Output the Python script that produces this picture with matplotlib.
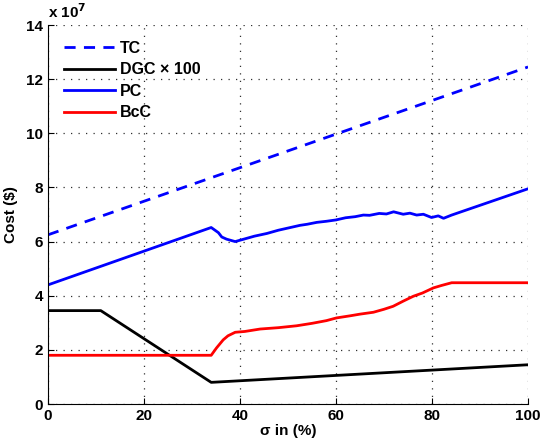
import numpy as np
import matplotlib
matplotlib.use("Agg")
import matplotlib.pyplot as plt

plt.rcParams['font.family'] = ['Liberation Sans', 'DejaVu Sans']
plt.rcParams['font.weight'] = 'bold'

# values in units of 1e7 $
tc_x = [0, 100]
tc_y = [6.25, 12.45]

dgc_x = [0, 11, 34, 100]
dgc_y = [3.45, 3.45, 0.8, 1.45]

pc_x = [0, 34, 35.5, 36.2, 37.2, 39, 41, 43, 45.6, 48, 50, 52.5, 54, 56, 58, 60, 62,
        64, 65.7, 67, 69, 70.5, 72, 74, 75.4, 76.8, 78.2, 79.9, 81.3, 82.4, 84.1, 100]
pc_y = [4.4, 6.52, 6.33, 6.17, 6.09, 6.0, 6.1, 6.2, 6.3, 6.42, 6.5, 6.6, 6.64, 6.71, 6.75, 6.8, 6.88,
        6.92, 6.98, 6.97, 7.04, 7.02, 7.1, 7.01, 7.05, 6.98, 7.01, 6.89, 6.95, 6.86, 6.98, 7.95]

bcc_x = [0, 34, 35.1, 36.5, 37.5, 39, 41, 44.2, 48, 51.8, 55, 58, 60.1, 63, 65, 67.8, 70, 71.9,
         74, 76.1, 78, 80.3, 82, 84.1, 100]
bcc_y = [1.8, 1.8, 2.07, 2.37, 2.52, 2.65, 2.68, 2.77, 2.82, 2.89, 2.98, 3.08, 3.18, 3.26, 3.32, 3.39, 3.5, 3.61,
         3.8, 3.98, 4.1, 4.29, 4.38, 4.48, 4.48]

fig = plt.figure(figsize=(5.41, 4.45), dpi=100)
ax = fig.add_axes([0.0887, 0.0921, 0.8873, 0.8517])

ax.plot(tc_x, tc_y, '--', color='#0000ff', lw=2, dashes=(4, 3), label='TC')
ax.plot(dgc_x, dgc_y, '-', color='black', lw=2, label='DGC \u00d7 100')
ax.plot(pc_x, pc_y, '-', color='#0000ff', lw=2, label='PC')
ax.plot(bcc_x, bcc_y, '-', color='#ff0000', lw=2, label='BcC')

ax.set_xlim(0, 100)
ax.set_ylim(0, 14)
ax.set_xticks(np.arange(0, 101, 20))
ax.set_yticks(np.arange(0, 15, 2))
ax.grid(True, linestyle=(0, (1, 5)), color='#303030', lw=0.9)
ax.tick_params(direction='in', labelsize=11, length=4)
for lbl in ax.get_xticklabels() + ax.get_yticklabels():
    lbl.set_fontweight('bold')
ax.spines['top'].set_visible(False)
ax.spines['right'].set_visible(False)

ax.set_xlabel('\u03c3 in (%)', fontsize=11, fontweight='bold', labelpad=1)
ax.set_ylabel('Cost ($)', fontsize=11, fontweight='bold', labelpad=6)
ax.text(0.0, 1.01, 'x 10$^{\\mathbf{7}}$', transform=ax.transAxes, fontsize=11,
        fontweight='bold', va='bottom', ha='left')

leg = ax.legend(loc='upper left', frameon=False, handlelength=3.2, fontsize=11.5,
                borderaxespad=0.6, labelspacing=0.4, handletextpad=0.3)
for t in leg.get_texts():
    t.set_fontweight('bold')

fig.savefig('out.png', dpi=100)
